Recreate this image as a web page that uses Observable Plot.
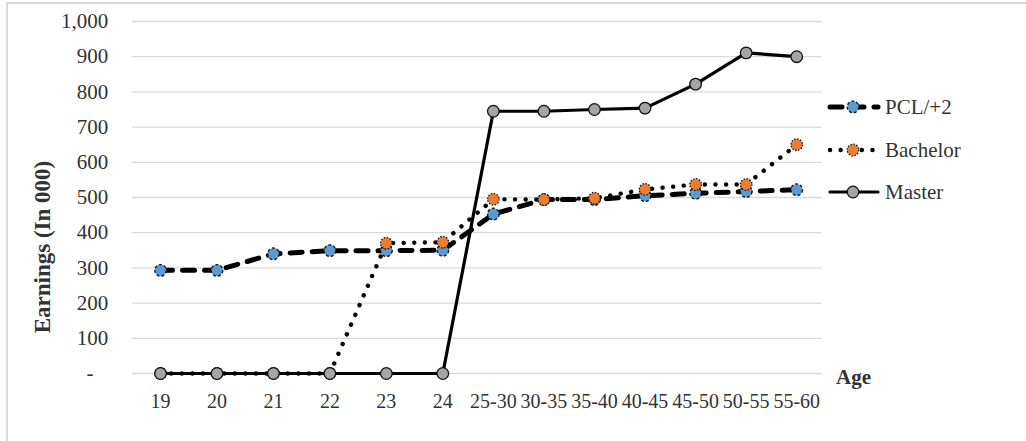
<!DOCTYPE html>
<html>
<head>
<meta charset="utf-8">
<script src="https://cdn.jsdelivr.net/npm/d3@7"></script>
<script src="https://cdn.jsdelivr.net/npm/@observablehq/plot@0.6"></script>
<style>
  html, body { margin: 0; padding: 0; background: #fff; }
  #chart { width: 1026px; height: 441px; overflow: hidden; }
</style>
</head>
<body>
<div id="chart"></div>
<script>
// Age groups (category axis)
const ages = ["19", "20", "21", "22", "23", "24", "25-30", "30-35", "35-40", "40-45", "45-50", "50-55", "55-60"];

// Earnings by qualification (in 000)
const pcl      = [293, 293, 340, 349, 349, 350, 453, 494, 494, 505, 512, 517, 522];
const bachelor = [0, 0, 0, 0, 370, 373, 495, 494, 498, 523, 537, 537, 650];
const master   = [0, 0, 0, 0, 0, 0, 745, 745, 750, 754, 822, 911, 900];

// Value axis ticks
const yTicks = [0, 100, 200, 300, 400, 500, 600, 700, 800, 900, 1000];

const series = [
  {name: "PCL/+2",   values: pcl,      fill: "#5b9bd5", width: 5,   dash: "12,10", markerDash: "3,2"},
  {name: "Bachelor", values: bachelor, fill: "#ed7d31", width: 4.4, dash: "0.1,10.5", markerDash: "1.5,1.5"},
  {name: "Master",   values: master,   fill: "#a5a5a5", width: 3.2, dash: null, markerDash: null}
];

const textColor = "#333";
const serif = "'Liberation Serif', 'Times New Roman', serif";
const fmt = v => v === 0 ? "-\u2002\u2009" : d3.format(",")(v);

const seriesMarks = series.flatMap(s => {
  const rows = s.values.map((v, i) => ({i, value: v}));
  return [
    Plot.line(rows, {
      x: "i", y: "value", stroke: "#000", strokeWidth: s.width,
      strokeDasharray: s.dash, strokeLinecap: "round", strokeLinejoin: "round"
    }),
    Plot.dot(rows, {
      x: "i", y: "value", r: 5.8, fill: s.fill, stroke: "#111",
      strokeWidth: 1.3, strokeDasharray: s.markerDash
    })
  ];
});

const svg = Plot.plot({
  width: 1026,
  height: 441,
  marginLeft: 131.8,
  marginRight: 204.5,
  marginTop: 21,
  marginBottom: 68,
  style: {fontFamily: serif, fontSize: "20px", color: textColor, background: "#fff"},
  x: {type: "linear", domain: [-0.5, 5, 12.5], range: [131.8, 442.3, 821.5]},
  y: {type: "linear", domain: [0, 1000]},
  marks: [
    Plot.ruleY(yTicks, {stroke: "#d9d9d9", strokeWidth: 1.3}),
    Plot.axisY(yTicks, {tickSize: 0, tickPadding: 24, tickFormat: fmt, label: null, fontSize: 21}),
    Plot.axisX(d3.range(ages.length), {tickSize: 0, tickPadding: 20, tickFormat: i => ages[i], label: null, fontSize: 20}),
    ...seriesMarks
  ]
});

const root = d3.select(svg);

// Outer chart border
root.insert("rect", ":first-child")
  .attr("x", 7).attr("y", 3).attr("width", 1100).attr("height", 500)
  .attr("fill", "none").attr("stroke", "#d9d9d9").attr("stroke-width", 2);

// Axis titles
root.append("text")
  .attr("transform", "translate(42.5,247) rotate(-90)")
  .attr("text-anchor", "middle").attr("dominant-baseline", "central")
  .attr("font-family", serif).attr("font-weight", "bold").attr("font-size", 23)
  .attr("fill", textColor).text("Earnings (In 000)");

root.append("text")
  .attr("x", 853.5).attr("y", 377)
  .attr("text-anchor", "middle").attr("dominant-baseline", "central")
  .attr("font-family", serif).attr("font-weight", "bold").attr("font-size", 21)
  .attr("fill", textColor).text("Age");

// Legend
const legendY = [107, 150, 192];
const legend = root.append("g");
series.forEach((s, k) => {
  const g = legend.append("g").attr("transform", `translate(0,${legendY[k]})`);
  g.append("line")
    .attr("x1", 830).attr("x2", 878).attr("y1", 0).attr("y2", 0)
    .attr("stroke", "#000").attr("stroke-width", s.width)
    .attr("stroke-dasharray", s.dash).attr("stroke-linecap", "round");
  g.append("circle")
    .attr("cx", 853).attr("cy", 0).attr("r", 5.8)
    .attr("fill", s.fill).attr("stroke", "#111").attr("stroke-width", 1.3)
    .attr("stroke-dasharray", s.markerDash);
  g.append("text")
    .attr("x", 885).attr("y", 0)
    .attr("text-anchor", "start").attr("dominant-baseline", "central")
    .attr("font-family", serif).attr("font-size", 21)
    .attr("fill", textColor).text(s.name);
});

document.getElementById("chart").appendChild(svg);
</script>
</body>
</html>
